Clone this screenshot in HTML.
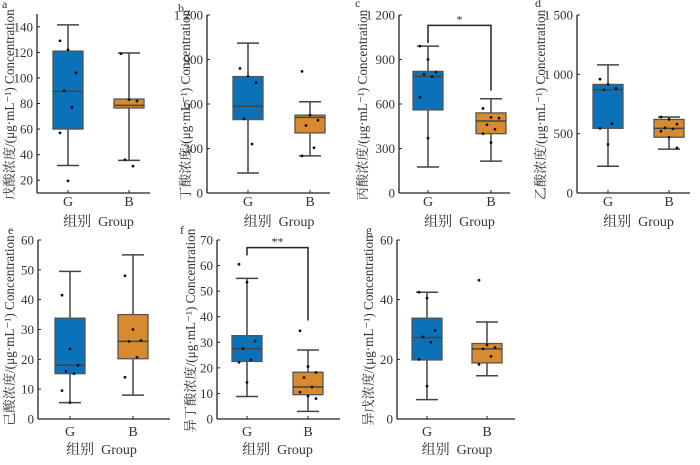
<!DOCTYPE html>
<html><head><meta charset="utf-8"><style>
body{margin:0;background:#fff}
svg{display:block}
text{font-family:"Liberation Serif","Noto Serif CJK SC",serif;fill:#333}
</style></head><body>
<svg id="chart" width="700" height="465"></svg>
<script>
// data per panel: [whiskerLow, q1, median, q3, whiskerHigh]
const panelLetters=["a","b","c","d","e","f","g"];
const yLabels=["戊酸浓度/(μg·mL⁻¹) Concentration","丁酸浓度/(μg·mL⁻¹) Concentration","丙酸浓度/(μg·mL⁻¹) Concentration","乙酸浓度/(μg·mL⁻¹) Concentration","己酸浓度/(μg·mL⁻¹) Concentration","异丁酸浓度/(μg·mL⁻¹) Concentration","异戊浓度/(μg·mL⁻¹) Concentration"];
const groups=["G","B"];
const yMin=[10,0,0,0,0,0,0];
const yMax=[150,1200,1200,1500,60,70,60];
const yTicks=[[20,40,60,80,100,120,140],[0,300,600,900,1200],[0,300,600,900,1200],[0,500,1000,1500],[0,10,20,30,40,50,60],[0,10,20,30,40,50,60,70],[0,20,40,60]];
const statsG=[[31.5,60,89.5,121,141.5],[135,495,585,785,1010],[175,560,785,820,990],[225,545,870,915,1080],[5.5,15.2,18,33.8,49.5],[8.8,22.5,27.5,32.6,55],[6.5,19.8,27.3,33.8,42.5]];
const statsB=[[35.5,76.5,78.5,83.5,119.5],[250,405,510,525,615],[215,400,485,540,635],[370,470,545,620,640],[8,20.2,26,35,55],[3,9.5,12.5,18.3,27],[14.5,18.8,23.5,25.3,32.5]];
const pointsG=[[129,122,104,90,77,57,19.5],[840,785,745,500,330],[990,900,815,800,785,645,370],[960,915,880,870,585,545,410],[41.5,23.5,18,16,15.2,9.5,5.5],[60.5,53.5,30.5,27.5,23.2,22.2,14.3],[42.5,40.5,29.7,27.5,25.7,20,11]];
const pointsB=[[119,83,82,36,31],[820,525,490,455,305,250],[570,510,505,460,430,400,340],[640,620,580,550,540,520,470,380],[48,30,26.3,26,20.7,14],[34.5,20.5,18.2,16.2,12.5,10.5,9,8],[46.5,24.8,24,23.5,21,18.3]];
// significance brackets
const sigPanels=[2,5];
const sigY=[1130,67];
const sigLeft=[1010,64];
const sigRight=[690,38.5];
const sigText=["*","**"];

const layout=[
 {ax:37,top:14,bot:193,g:68,b:129,right:150,lx:9,letX:2,letY:8,xl:202,gl:220},
 {ax:207,top:15,bot:193,g:248,b:310,right:330,lx:185,letX:178,letY:12,xl:202,gl:220},
 {ax:399,top:15,bot:193,g:428,b:491,right:510,lx:362,letX:355,letY:7,xl:202,gl:220},
 {ax:577,top:15,bot:193,g:608,b:669,right:690,lx:540,letX:535,letY:7,xl:202,gl:220},
 {ax:38,top:240,bot:419,g:70,b:133,right:170,lx:9,letX:8,letY:234,xl:432,gl:448},
 {ax:217,top:240,bot:419,g:247,b:308,right:340,lx:190,letX:180,letY:234,xl:432,gl:448},
 {ax:397,top:240,bot:419,g:427,b:487,right:515,lx:368,letX:366,letY:234,xl:432,gl:448}
];
const NS="http://www.w3.org/2000/svg";
const svg=document.getElementById('chart');
function el(tag,attrs,parent){const e=document.createElementNS(NS,tag);for(const k in attrs)e.setAttribute(k,attrs[k]);(parent||svg).appendChild(e);return e;}
function fmt(v){return v>=1000?String(v).replace(/(\d)(\d{3})$/,'$1\u00a0$2'):String(v);}
const colors=["#0b72b9","#d88b2e"];
for(let p=0;p<7;p++){
 const L=layout[p];
 const y=v=>L.bot-(v-yMin[p])/(yMax[p]-yMin[p])*(L.bot-L.top);
 const g=el('g',{});
 
 
 const let_=el('text',{x:L.letX,y:L.letY,'font-size':12},g);let_.textContent=panelLetters[p];
 
 const ya=el('line',{x1:L.ax,y1:L.top,x2:L.ax,y2:L.bot,stroke:'#222','stroke-width':1.3},g);
 
 const xa=el('line',{x1:L.ax,y1:L.bot,x2:L.right,y2:L.bot,stroke:'#222','stroke-width':1.3},g);
 
 yTicks[p].forEach(t=>{
  el('line',{x1:L.ax,y1:y(t),x2:L.ax+3,y2:y(t),stroke:'#222'},g);
  const tx=el('text',{x:L.ax-4,y:y(t)+4.5,'font-size':13,'text-anchor':'end'},g);tx.textContent=fmt(t);
  
 });
 const yl=el('text',{x:0,y:0,'font-size':13.2,'text-anchor':'middle',transform:`translate(${L.lx+5},${(L.top+L.bot)/2+1}) rotate(-90)`},g);
 yl.textContent=yLabels[p];
 
 const xs=[L.g,L.b];
 const st=[statsG[p],statsB[p]],pts=[pointsG[p],pointsB[p]];
 for(let k=0;k<2;k++){
  const cx=xs[k],s=st[k];
  el('line',{x1:cx,y1:L.bot,x2:cx,y2:L.bot-3,stroke:'#222'},g);
  const xl=el('text',{x:cx,y:L.xl+4,'font-size':14,'text-anchor':'middle'},g);xl.textContent=groups[k];
  
  el('line',{x1:cx,y1:y(s[0]),x2:cx,y2:y(s[4]),stroke:'#444','stroke-width':1.5},g);
  el('line',{x1:cx-11,y1:y(s[0]),x2:cx+11,y2:y(s[0]),stroke:'#444','stroke-width':1.5},g);
  el('line',{x1:cx-11,y1:y(s[4]),x2:cx+11,y2:y(s[4]),stroke:'#444','stroke-width':1.5},g);
  const box=el('rect',{x:cx-15,y:y(s[3]),width:30,height:y(s[1])-y(s[3]),fill:colors[k],stroke:'#555','stroke-width':1.3},g);
  
  el('line',{x1:cx-15,y1:y(s[2]),x2:cx+15,y2:y(s[2]),stroke:'#444','stroke-width':1.5},g);
  pts[k].forEach((v,i)=>{
   const off=((i*7)%5-2)*4;
   const c=el('circle',{cx:cx+off,cy:y(v),r:1.4,fill:'#111'},g);
   
  });
 }
 const gl=el('text',{x:(L.g+L.b)/2,y:L.gl+6,'font-size':14,'text-anchor':'middle'},g);gl.textContent="组别\u00a0\u00a0Group";
 
}
sigPanels.forEach((p,i)=>{
 const L=layout[p];
 const y=v=>L.bot-(v-yMin[p])/(yMax[p]-yMin[p])*(L.bot-L.top);
 const br=el('path',{d:`M${L.g},${y(sigLeft[i])}V${y(sigY[i])}H${L.b}V${y(sigRight[i])}`,fill:'none',stroke:'#222','stroke-width':1.5});
 
 const t=el('text',{x:(L.g+L.b)/2,y:y(sigY[i])-2,'font-size':12,'text-anchor':'middle'});t.textContent=sigText[i];
 
});
</script>
</body></html>
